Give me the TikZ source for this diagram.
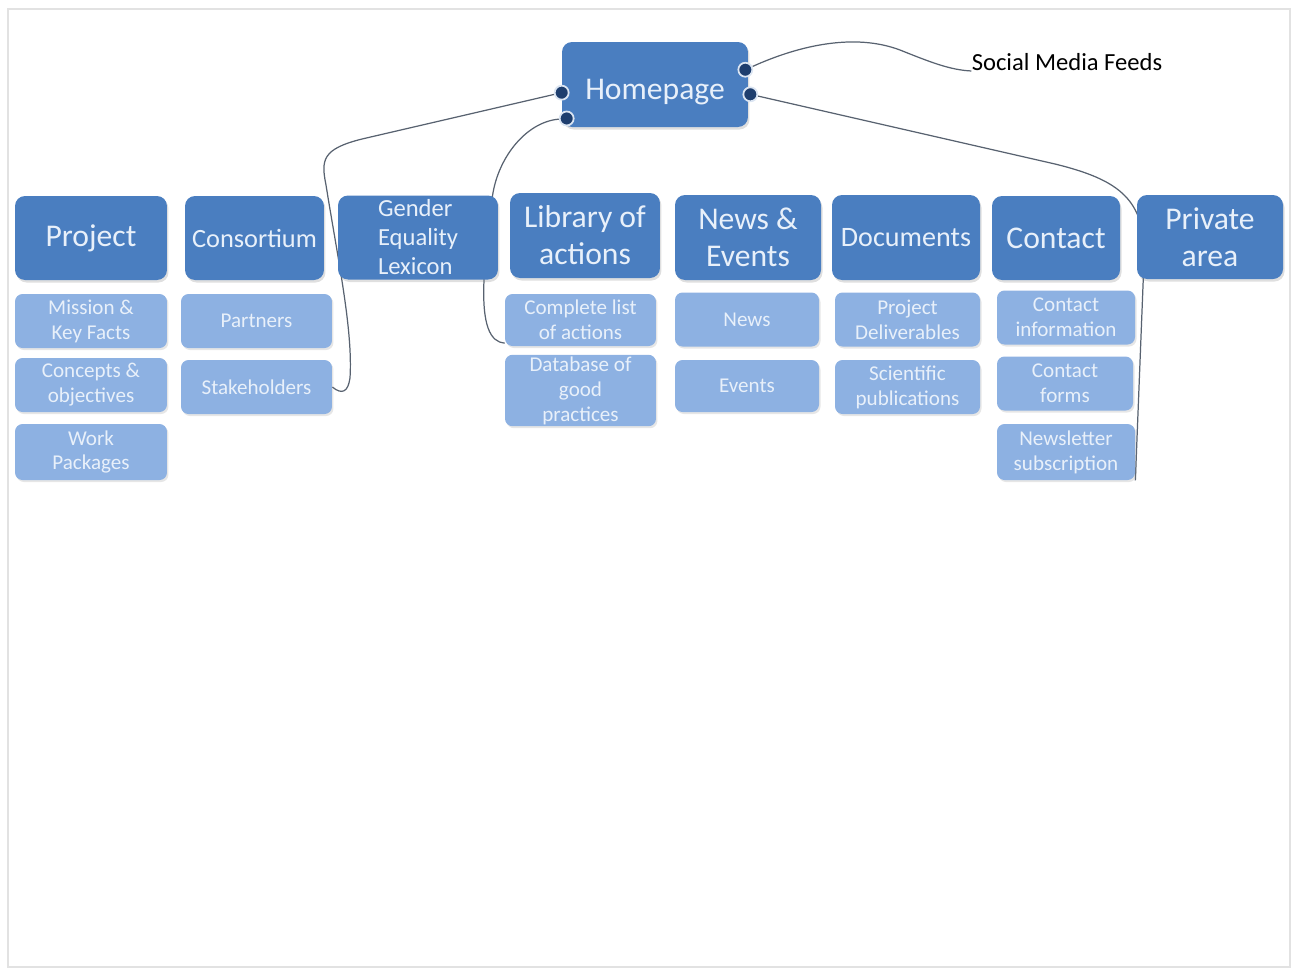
\documentclass[tikz,border=0pt]{standalone}
\usepackage{fontspec}
\setmainfont{Carlito}
\usetikzlibrary{shadows}
\pgfdeclarelayer{background}
\pgfsetlayers{background,main}

\definecolor{menublue}{RGB}{74,126,192}
\definecolor{itemblue}{RGB}{141,177,226}
\definecolor{portblue}{RGB}{30,62,110}
\definecolor{textlight}{RGB}{232,240,250}
\definecolor{wirecol}{RGB}{88,98,112}
\definecolor{framegray}{RGB}{226,226,226}

\begin{document}
\begin{tikzpicture}[x=0.02cm, y=-0.02cm,
  menu/.style={rectangle, rounded corners=0.2cm, fill=menublue, text=textlight,
     minimum height=1.68cm, inner sep=2pt, align=center,
     font=\fontsize{18}{21}\selectfont,
     drop shadow={opacity=0.25, shadow xshift=0.03cm, shadow yshift=-0.05cm}},
  item/.style={rectangle, rounded corners=0.15cm, fill=itemblue, text=textlight,
     minimum height=1.08cm, inner sep=1pt, align=center,
     font=\fontsize{12}{14.2}\selectfont,
     drop shadow={opacity=0.2, shadow xshift=0.03cm, shadow yshift=-0.04cm}},
  port/.style={circle, fill=portblue, draw=white!80!menublue, line width=1pt,
     inner sep=0pt, minimum size=0.28cm},
  wire/.style={draw=wirecol, line width=0.7pt}]

\useasboundingbox (0,0) rectangle (1293,968);
\draw[framegray, line width=0.05cm] (8,9) rectangle (1290,967);

% homepage and feeds
\draw (655,84.5) node[menu, minimum width=3.72cm, minimum height=1.7cm,
        text height=0.6cm, text depth=0pt] (home) {Homepage}
      (1067,62) node[inner sep=0pt, font=\fontsize{14}{16}\selectfont] (social) {Social Media Feeds};
\draw (home.185) node[port] (pl1) {} ([xshift=0.1cm]home.200) node[port] (pl2) {}
      ([xshift=-0.06cm]home.9) node[port] (pr1) {} ([xshift=0.04cm]home.-6) node[port] (pr2) {};

% menu row
\draw (91,238) node[menu, minimum width=3.04cm] (project) {Project}
      (254.5,238) node[menu, minimum width=2.78cm, font=\fontsize{15}{18}\selectfont] (consortium) {Consortium}
      (418,237.5) node[menu, minimum width=3.2cm, align=left, font=\fontsize{14}{16.5}\selectfont] (lexicon) {Gender\\Equality\\Lexicon}
      (585,235.5) node[menu, minimum width=3.0cm, minimum height=1.7cm] (library) {Library of\\actions}
      (748,237.5) node[menu, minimum width=2.92cm, minimum height=1.7cm] (newsevents) {News \&\\Events}
      (906,237.5) node[menu, minimum width=2.96cm, minimum height=1.7cm, font=\fontsize{16}{19}\selectfont] (documents) {Documents}
      (1056,238) node[menu, minimum width=2.56cm] (contact) {Contact}
      (1210,237) node[menu, minimum width=2.92cm] (private) {Private\\area};

% items under the menu
\draw (91,321) node[item, minimum width=3.04cm] (mission) {Mission \&\\Key Facts}
      (91,385) node[item, minimum width=3.04cm] (concepts) {Concepts \&\\objectives}
      (91,452) node[item, minimum width=3.04cm, minimum height=1.12cm] (workpkg) {Work\\Packages}
      (256.5,321) node[item, minimum width=3.02cm] (partners) {Partners}
      (256.5,387) node[item, minimum width=3.02cm] (stakeholders) {Stakeholders}
      (580.5,320) node[item, minimum width=3.02cm, minimum height=1.04cm] (actlist) {Complete list\\of actions}
      (580.5,390.5) node[item, minimum width=3.02cm, minimum height=1.38cm] (goodpract) {Database of\\good\\practices}
      (747,319.5) node[item, minimum width=2.88cm] (newsitem) {News}
      (747,386) node[item, minimum width=2.88cm, minimum height=1.04cm] (events) {Events}
      (907.5,319.5) node[item, minimum width=2.9cm] (deliverables) {Project\\Deliverables}
      (907.5,387) node[item, minimum width=2.9cm] (publications) {Scientific\\publications}
      (1066,317.5) node[item, minimum width=2.76cm] (contactinfo) {Contact\\information}
      (1065,383.5) node[item, minimum width=2.72cm] (contactforms) {Contact\\forms}
      (1066,452) node[item, minimum width=2.76cm, minimum height=1.12cm] (newsletter) {Newsletter\\subscription};

% links, behind the boxes
\begin{pgfonlayer}{background}
\draw[wire] (pl1) -- (362,139) .. controls (322,149) and (321,160) .. (326,185)
      .. controls (338,260) and (353,330) .. (350,378)
      .. controls (348,392) and (342,395) .. (stakeholders.east);
\draw[wire] (pl2) .. controls (525,122) and (496,160) .. (492,200) -- (484,280)
      .. controls (482,325) and (490,342) .. (actlist.197);
\draw[wire] (pr1) .. controls (800,45) and (855,33) .. (900,50)
      .. controls (930,62) and (950,70) .. (social.south west);
\draw[wire] (pr2) -- (1055,164) .. controls (1120,180) and (1146,200) .. (1144,260)
      -- (newsletter.south east);
\end{pgfonlayer}
\end{tikzpicture}
\end{document}
